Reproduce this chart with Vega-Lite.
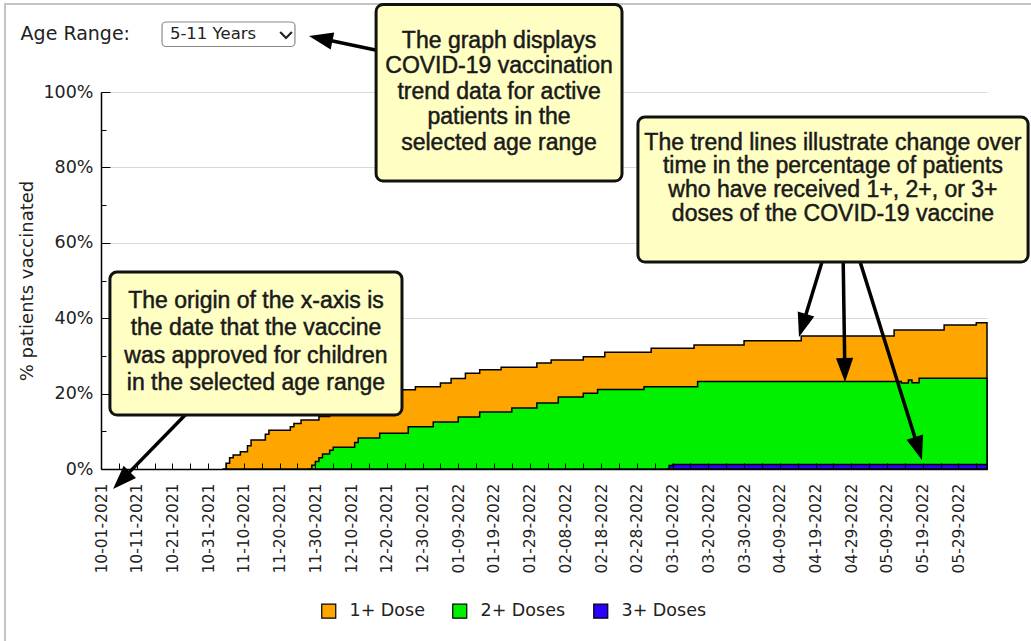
{
  "$schema": "https://vega.github.io/schema/vega-lite/v6.json",
  "width": 886,
  "height": 377,
  "autosize": "none",
  "padding": {"left": 101, "top": 92, "right": 44, "bottom": 172},
  "background": "white",
  "config": {"view": {"stroke": null}},
  "datasets": {
    "vax": [
      {"date": "2021-11-04", "series": "1+ Dose", "value": 0},
      {"date": "2021-11-05", "series": "1+ Dose", "value": 0.015},
      {"date": "2021-11-06", "series": "1+ Dose", "value": 0.03},
      {"date": "2021-11-07", "series": "1+ Dose", "value": 0.037},
      {"date": "2021-11-09", "series": "1+ Dose", "value": 0.046},
      {"date": "2021-11-11", "series": "1+ Dose", "value": 0.062},
      {"date": "2021-11-12", "series": "1+ Dose", "value": 0.077},
      {"date": "2021-11-16", "series": "1+ Dose", "value": 0.092},
      {"date": "2021-11-17", "series": "1+ Dose", "value": 0.103},
      {"date": "2021-11-23", "series": "1+ Dose", "value": 0.112},
      {"date": "2021-11-24", "series": "1+ Dose", "value": 0.121},
      {"date": "2021-11-26", "series": "1+ Dose", "value": 0.13},
      {"date": "2021-12-01", "series": "1+ Dose", "value": 0.139},
      {"date": "2021-12-04", "series": "1+ Dose", "value": 0.15},
      {"date": "2021-12-08", "series": "1+ Dose", "value": 0.163},
      {"date": "2021-12-12", "series": "1+ Dose", "value": 0.176},
      {"date": "2021-12-16", "series": "1+ Dose", "value": 0.188},
      {"date": "2021-12-20", "series": "1+ Dose", "value": 0.2},
      {"date": "2021-12-24", "series": "1+ Dose", "value": 0.21},
      {"date": "2021-12-28", "series": "1+ Dose", "value": 0.218},
      {"date": "2022-01-04", "series": "1+ Dose", "value": 0.228},
      {"date": "2022-01-07", "series": "1+ Dose", "value": 0.24},
      {"date": "2022-01-11", "series": "1+ Dose", "value": 0.254},
      {"date": "2022-01-15", "series": "1+ Dose", "value": 0.263},
      {"date": "2022-01-21", "series": "1+ Dose", "value": 0.27},
      {"date": "2022-01-31", "series": "1+ Dose", "value": 0.281},
      {"date": "2022-02-04", "series": "1+ Dose", "value": 0.289},
      {"date": "2022-02-13", "series": "1+ Dose", "value": 0.298},
      {"date": "2022-02-19", "series": "1+ Dose", "value": 0.31},
      {"date": "2022-03-04", "series": "1+ Dose", "value": 0.32},
      {"date": "2022-03-16", "series": "1+ Dose", "value": 0.329},
      {"date": "2022-03-30", "series": "1+ Dose", "value": 0.34},
      {"date": "2022-04-15", "series": "1+ Dose", "value": 0.353},
      {"date": "2022-05-11", "series": "1+ Dose", "value": 0.369},
      {"date": "2022-05-25", "series": "1+ Dose", "value": 0.382},
      {"date": "2022-06-03", "series": "1+ Dose", "value": 0.388},
      {"date": "2022-06-06", "series": "1+ Dose", "value": 0.388},
      {"date": "2021-11-28", "series": "2+ Doses", "value": 0},
      {"date": "2021-11-29", "series": "2+ Doses", "value": 0.01},
      {"date": "2021-11-30", "series": "2+ Doses", "value": 0.02},
      {"date": "2021-12-01", "series": "2+ Doses", "value": 0.03},
      {"date": "2021-12-02", "series": "2+ Doses", "value": 0.04},
      {"date": "2021-12-04", "series": "2+ Doses", "value": 0.05},
      {"date": "2021-12-05", "series": "2+ Doses", "value": 0.058},
      {"date": "2021-12-11", "series": "2+ Doses", "value": 0.07},
      {"date": "2021-12-12", "series": "2+ Doses", "value": 0.082},
      {"date": "2021-12-18", "series": "2+ Doses", "value": 0.095},
      {"date": "2021-12-26", "series": "2+ Doses", "value": 0.112},
      {"date": "2022-01-02", "series": "2+ Doses", "value": 0.125},
      {"date": "2022-01-09", "series": "2+ Doses", "value": 0.138},
      {"date": "2022-01-15", "series": "2+ Doses", "value": 0.151},
      {"date": "2022-01-24", "series": "2+ Doses", "value": 0.162},
      {"date": "2022-01-31", "series": "2+ Doses", "value": 0.175},
      {"date": "2022-02-06", "series": "2+ Doses", "value": 0.191},
      {"date": "2022-02-13", "series": "2+ Doses", "value": 0.201},
      {"date": "2022-02-17", "series": "2+ Doses", "value": 0.211},
      {"date": "2022-03-02", "series": "2+ Doses", "value": 0.218},
      {"date": "2022-03-17", "series": "2+ Doses", "value": 0.232},
      {"date": "2022-05-13", "series": "2+ Doses", "value": 0.228},
      {"date": "2022-05-15", "series": "2+ Doses", "value": 0.236},
      {"date": "2022-05-16", "series": "2+ Doses", "value": 0.229},
      {"date": "2022-05-18", "series": "2+ Doses", "value": 0.241},
      {"date": "2022-06-06", "series": "2+ Doses", "value": 0.241},
      {"date": "2022-03-08", "series": "3+ Doses", "value": 0},
      {"date": "2022-03-09", "series": "3+ Doses", "value": 0.009},
      {"date": "2022-03-10", "series": "3+ Doses", "value": 0.012},
      {"date": "2022-06-06", "series": "3+ Doses", "value": 0.012}
    ]
  },
  "layer": [
    {
      "data": {"values": [{}]},
      "mark": {"type": "rect", "filled": false, "stroke": "#c4c4c4", "strokeWidth": 2},
      "encoding": {
        "x": {"datum": {"year": 2021, "month": 9, "date": 4, "hours": 3, "utc": true}, "type": "temporal", "axis": null},
        "x2": {"datum": {"year": 2022, "month": 6, "date": 30, "utc": true}},
        "y": {"datum": 1.2334, "type": "quantitative", "axis": null},
        "y2": {"datum": -0.6}
      }
    },
    {
      "data": {"name": "vax"},
      "transform": [{"filter": "datum.series === '1+ Dose'"}],
      "mark": {"type": "area", "interpolate": "step-after", "stroke": "black", "strokeWidth": 1.5, "fillOpacity": 1},
      "encoding": {
        "x": {
          "field": "date", "type": "temporal",
          "scale": {"type": "utc", "nice": false, "domain": [{"year": 2021, "month": 10, "date": 1, "utc": true}, {"year": 2022, "month": 6, "date": 6, "utc": true}]},
          "axis": {
            "orient": "bottom", "title": null,
            "values": [1633046400000, 1633910400000, 1634774400000, 1635638400000, 1636502400000, 1637366400000, 1638230400000, 1639094400000, 1639958400000, 1640822400000, 1641686400000, 1642550400000, 1643414400000, 1644278400000, 1645142400000, 1646006400000, 1646870400000, 1647734400000, 1648598400000, 1649462400000, 1650326400000, 1651190400000, 1652054400000, 1652918400000, 1653782400000],
            "labelExpr": "utcFormat(datum.value, '%m-%d-%Y')",
            "labelAngle": -90, "labelPadding": 14, "labelFont": "DejaVu Sans", "labelFontSize": 15.5, "labelColor": "#222",
            "labelOverlap": false, "labelFlush": false, "labelBound": false,
            "ticks": false, "grid": false, "domain": true, "domainColor": "black", "domainWidth": 1.5, "zindex": 0
          }
        },
        "y": {
          "field": "value", "type": "quantitative", "stack": null,
          "scale": {"domain": [0, 1], "nice": false, "zero": true},
          "axis": {
            "orient": "left", "values": [0, 0.2, 0.4, 0.6, 0.8, 1], "format": ".0%",
            "grid": true, "gridColor": "#d9d9d9", "gridWidth": 1,
            "ticks": false, "domain": true, "domainColor": "black", "domainWidth": 1.5,
            "labelPadding": 8, "labelFont": "DejaVu Sans", "labelFontSize": 17.5, "labelColor": "#222",
            "title": "% patients vaccinated", "titleFont": "DejaVu Sans", "titleFontSize": 18, "titleFontWeight": "normal", "titleColor": "#222", "titlePadding": 6,
            "zindex": 0
          }
        },
        "color": {
          "field": "series", "type": "nominal",
          "scale": {"domain": ["1+ Dose", "2+ Doses", "3+ Doses"], "range": ["#ffa500", "#00f000", "#2b00ff"]},
          "legend": {
            "orient": "none", "legendX": 219, "legendY": 510, "direction": "horizontal", "title": null,
            "symbolType": "square", "symbolSize": 196, "symbolStrokeColor": "#333", "symbolStrokeWidth": 1.2,
            "labelFont": "DejaVu Sans", "labelFontSize": 17.5, "labelColor": "#222", "labelOffset": 12,
            "columnPadding": 25, "padding": 0
          }
        }
      }
    },
    {
      "data": {"name": "vax"},
      "transform": [{"filter": "datum.series === '2+ Doses'"}],
      "mark": {"type": "area", "interpolate": "step-after", "stroke": "black", "strokeWidth": 1.5, "fillOpacity": 1},
      "encoding": {
        "x": {
          "field": "date", "type": "temporal",
          "axis": {
            "orient": "bottom", "title": null, "labels": false, "domain": false, "grid": false,
            "ticks": true, "tickSize": -6, "tickColor": "black", "tickWidth": 1, "zindex": 1,
            "values": [1633046400000, 1633478400000, 1633910400000, 1634342400000, 1634774400000, 1635206400000, 1635638400000, 1636070400000, 1636502400000, 1636934400000, 1637366400000, 1637798400000, 1638230400000, 1638662400000, 1639094400000, 1639526400000, 1639958400000, 1640390400000, 1640822400000, 1641254400000, 1641686400000, 1642118400000, 1642550400000, 1642982400000, 1643414400000, 1643846400000, 1644278400000, 1644710400000, 1645142400000, 1645574400000, 1646006400000, 1646438400000, 1646870400000, 1647302400000, 1647734400000, 1648166400000, 1648598400000, 1649030400000, 1649462400000, 1649894400000, 1650326400000, 1650758400000, 1651190400000, 1651622400000, 1652054400000, 1652486400000, 1652918400000, 1653350400000, 1653782400000, 1654214400000]
          }
        },
        "y": {
          "field": "value", "type": "quantitative", "stack": null,
          "axis": {
            "orient": "left", "title": null, "labels": false, "domain": false, "grid": false,
            "ticks": true, "tickColor": "black", "tickWidth": 1, "zindex": 1,
            "tickSize": {"condition": {"test": "round(datum.value * 10) % 2 === 0", "value": -9}, "value": -5},
            "values": [0, 0.1, 0.2, 0.3, 0.4, 0.5, 0.6, 0.7, 0.8, 0.9, 1]
          }
        },
        "color": {"field": "series", "type": "nominal"}
      }
    },
    {
      "data": {"name": "vax"},
      "transform": [{"filter": "datum.series === '3+ Doses'"}],
      "mark": {"type": "area", "interpolate": "step-after", "stroke": "black", "strokeWidth": 1.5, "fillOpacity": 1},
      "encoding": {
        "x": {"field": "date", "type": "temporal", "axis": null},
        "y": {"field": "value", "type": "quantitative", "stack": null, "axis": null},
        "color": {"field": "series", "type": "nominal"}
      }
    },
    {
      "data": {"values": [{}]},
      "mark": {"type": "rule", "color": "black", "strokeWidth": 3.5},
      "encoding": {
        "x": {"datum": {"year": 2021, "month": 12, "date": 19, "hours": 12, "utc": true}, "type": "temporal", "axis": null},
        "x2": {"datum": {"year": 2021, "month": 12, "date": 1, "hours": 12, "utc": true}},
        "y": {"datum": 1.1061, "type": "quantitative", "axis": null},
        "y2": {"datum": 1.142}
      }
    },
    {
      "data": {"values": [{}]},
      "mark": {"type": "rule", "color": "black", "strokeWidth": 3.5},
      "encoding": {
        "x": {"datum": {"year": 2021, "month": 10, "date": 25, "hours": 22, "utc": true}, "type": "temporal", "axis": null},
        "x2": {"datum": {"year": 2021, "month": 10, "date": 6, "hours": 17, "utc": true}},
        "y": {"datum": 0.1565, "type": "quantitative", "axis": null},
        "y2": {"datum": -0.0302}
      }
    },
    {
      "data": {"values": [{}]},
      "mark": {"type": "rule", "color": "black", "strokeWidth": 3.5},
      "encoding": {
        "x": {"datum": {"year": 2022, "month": 4, "date": 21, "hours": 16, "utc": true}, "type": "temporal", "axis": null},
        "x2": {"datum": {"year": 2022, "month": 4, "date": 15, "hours": 9, "utc": true}},
        "y": {"datum": 0.5756, "type": "quantitative", "axis": null},
        "y2": {"datum": 0.3806}
      }
    },
    {
      "data": {"values": [{}]},
      "mark": {"type": "rule", "color": "black", "strokeWidth": 3.5},
      "encoding": {
        "x": {"datum": {"year": 2022, "month": 4, "date": 26, "hours": 17, "utc": true}, "type": "temporal", "axis": null},
        "x2": {"datum": {"year": 2022, "month": 4, "date": 27, "hours": 5, "utc": true}},
        "y": {"datum": 0.5756, "type": "quantitative", "axis": null},
        "y2": {"datum": 0.2626}
      }
    },
    {
      "data": {"values": [{}]},
      "mark": {"type": "rule", "color": "black", "strokeWidth": 3.5},
      "encoding": {
        "x": {"datum": {"year": 2022, "month": 4, "date": 30, "hours": 15, "utc": true}, "type": "temporal", "axis": null},
        "x2": {"datum": {"year": 2022, "month": 5, "date": 17, "hours": 19, "utc": true}},
        "y": {"datum": 0.5756, "type": "quantitative", "axis": null},
        "y2": {"datum": 0.0544}
      }
    },
    {
      "data": {"values": [{}]},
      "mark": {"type": "rect", "fill": "#ffffc4", "stroke": "#111", "strokeWidth": 3, "cornerRadius": 7},
      "encoding": {
        "x": {"datum": {"year": 2021, "month": 12, "date": 17, "hours": 0, "utc": true}, "type": "temporal", "axis": null},
        "x2": {"datum": {"year": 2022, "month": 2, "date": 23, "hours": 20, "utc": true}},
        "y": {"datum": 1.2321, "type": "quantitative", "axis": null},
        "y2": {"datum": 0.7639}
      }
    },
    {
      "data": {"values": [{}]},
      "mark": {"type": "rect", "fill": "#ffffc4", "stroke": "#111", "strokeWidth": 3, "cornerRadius": 7},
      "encoding": {
        "x": {"datum": {"year": 2022, "month": 2, "date": 28, "hours": 7, "utc": true}, "type": "temporal", "axis": null},
        "x2": {"datum": {"year": 2022, "month": 6, "date": 17, "hours": 12, "utc": true}},
        "y": {"datum": 0.9337, "type": "quantitative", "axis": null},
        "y2": {"datum": 0.5491}
      }
    },
    {
      "data": {"values": [{}]},
      "mark": {"type": "rect", "fill": "#ffffc4", "stroke": "#111", "strokeWidth": 3, "cornerRadius": 7},
      "encoding": {
        "x": {"datum": {"year": 2021, "month": 10, "date": 3, "hours": 12, "utc": true}, "type": "temporal", "axis": null},
        "x2": {"datum": {"year": 2021, "month": 12, "date": 24, "hours": 6, "utc": true}},
        "y": {"datum": 0.5225, "type": "quantitative", "axis": null},
        "y2": {"datum": 0.1432}
      }
    },
    {
      "data": {"values": [{}]},
      "mark": {"type": "rect", "fill": "white", "stroke": "#8a8a8a", "strokeWidth": 1.2, "cornerRadius": 4},
      "encoding": {
        "x": {"datum": {"year": 2021, "month": 10, "date": 18, "hours": 2, "utc": true}, "type": "temporal", "axis": null},
        "x2": {"datum": {"year": 2021, "month": 11, "date": 24, "hours": 7, "utc": true}},
        "y": {"datum": 1.1857, "type": "quantitative", "axis": null},
        "y2": {"datum": 1.1207}
      }
    },
    {
      "data": {"values": [{}]},
      "mark": {"type": "text", "text": ["The graph displays", "COVID-19 vaccination", "trend data for active", "patients in the", "selected age range"], "font": "Liberation Sans", "fontSize": 23, "lineHeight": 25.4, "align": "center", "baseline": "middle", "color": "#1a1a1a", "stroke": "#1a1a1a", "strokeWidth": 0.5},
      "encoding": {
        "x": {"datum": {"year": 2022, "month": 1, "date": 20, "hours": 10, "utc": true}, "type": "temporal", "axis": null},
        "y": {"datum": 1.135, "type": "quantitative", "axis": null}
      }
    },
    {
      "data": {"values": [{}]},
      "mark": {"type": "text", "text": ["The trend lines illustrate change over", "time in the percentage of patients", "who have received 1+, 2+, or 3+", "doses of the COVID-19 vaccine"], "font": "Liberation Sans", "fontSize": 23, "lineHeight": 23.8, "align": "center", "baseline": "middle", "color": "#1a1a1a", "stroke": "#1a1a1a", "strokeWidth": 0.5},
      "encoding": {
        "x": {"datum": {"year": 2022, "month": 4, "date": 23, "hours": 21, "utc": true}, "type": "temporal", "axis": null},
        "y": {"datum": 0.866, "type": "quantitative", "axis": null}
      }
    },
    {
      "data": {"values": [{}]},
      "mark": {"type": "text", "text": ["The origin of the x-axis is", "the date that the vaccine", "was approved for children", "in the selected age range"], "font": "Liberation Sans", "fontSize": 23, "lineHeight": 27.5, "align": "center", "baseline": "middle", "color": "#1a1a1a", "stroke": "#1a1a1a", "strokeWidth": 0.5},
      "encoding": {
        "x": {"datum": {"year": 2021, "month": 11, "date": 13, "hours": 9, "utc": true}, "type": "temporal", "axis": null},
        "y": {"datum": 0.446, "type": "quantitative", "axis": null}
      }
    },
    {
      "data": {"values": [{}]},
      "mark": {"type": "text", "text": "Age Range:", "font": "DejaVu Sans", "fontSize": 19, "align": "left", "baseline": "middle", "color": "#222"},
      "encoding": {
        "x": {"datum": {"year": 2021, "month": 9, "date": 8, "hours": 12, "utc": true}, "type": "temporal", "axis": null},
        "y": {"datum": 1.1533, "type": "quantitative", "axis": null}
      }
    },
    {
      "data": {"values": [{}]},
      "mark": {"type": "text", "text": "5-11 Years", "font": "DejaVu Sans", "fontSize": 16.5, "align": "left", "baseline": "middle", "color": "#222"},
      "encoding": {
        "x": {"datum": {"year": 2021, "month": 10, "date": 20, "hours": 7, "utc": true}, "type": "temporal", "axis": null},
        "y": {"datum": 1.1533, "type": "quantitative", "axis": null}
      }
    },
    {
      "data": {"values": [{}]},
      "mark": {"type": "point", "shape": "M-0.9,-0.45L0,0.45L0.9,-0.45", "size": 169, "filled": false, "stroke": "#222", "strokeWidth": 2.2, "opacity": 1},
      "encoding": {
        "x": {"datum": {"year": 2021, "month": 11, "date": 21, "hours": 19, "utc": true}, "type": "temporal", "axis": null},
        "y": {"datum": 1.1512, "type": "quantitative", "axis": null}
      }
    },
    {
      "data": {"values": [{}]},
      "mark": {"type": "point", "shape": "M0,0L0.36,1L-0.36,1Z", "size": 2304, "filled": true, "color": "black", "opacity": 1, "strokeWidth": 0, "angle": -78.1},
      "encoding": {
        "x": {"datum": {"year": 2021, "month": 11, "date": 28, "hours": 5, "utc": true}, "type": "temporal", "axis": null},
        "y": {"datum": 1.1485, "type": "quantitative", "axis": null}
      }
    },
    {
      "data": {"values": [{}]},
      "mark": {"type": "point", "shape": "M0,0L0.36,1L-0.36,1Z", "size": 2304, "filled": true, "color": "black", "opacity": 1, "strokeWidth": 0, "angle": -135.7},
      "encoding": {
        "x": {"datum": {"year": 2021, "month": 10, "date": 4, "hours": 9, "utc": true}, "type": "temporal", "axis": null},
        "y": {"datum": -0.0531, "type": "quantitative", "axis": null}
      }
    },
    {
      "data": {"values": [{}]},
      "mark": {"type": "point", "shape": "M0,0L0.36,1L-0.36,1Z", "size": 2304, "filled": true, "color": "black", "opacity": 1, "strokeWidth": 0, "angle": -163},
      "encoding": {
        "x": {"datum": {"year": 2022, "month": 4, "date": 14, "hours": 9, "utc": true}, "type": "temporal", "axis": null},
        "y": {"datum": 0.3501, "type": "quantitative", "axis": null}
      }
    },
    {
      "data": {"values": [{}]},
      "mark": {"type": "point", "shape": "M0,0L0.36,1L-0.36,1Z", "size": 2304, "filled": true, "color": "black", "opacity": 1, "strokeWidth": 0, "angle": 179.1},
      "encoding": {
        "x": {"datum": {"year": 2022, "month": 4, "date": 27, "hours": 6, "utc": true}, "type": "temporal", "axis": null},
        "y": {"datum": 0.2308, "type": "quantitative", "axis": null}
      }
    },
    {
      "data": {"values": [{}]},
      "mark": {"type": "point", "shape": "M0,0L0.36,1L-0.36,1Z", "size": 2304, "filled": true, "color": "black", "opacity": 1, "strokeWidth": 0, "angle": 162.65},
      "encoding": {
        "x": {"datum": {"year": 2022, "month": 5, "date": 18, "hours": 19, "utc": true}, "type": "temporal", "axis": null},
        "y": {"datum": 0.0239, "type": "quantitative", "axis": null}
      }
    }
  ],
  "resolve": {"axis": {"x": "independent", "y": "independent"}}
}
